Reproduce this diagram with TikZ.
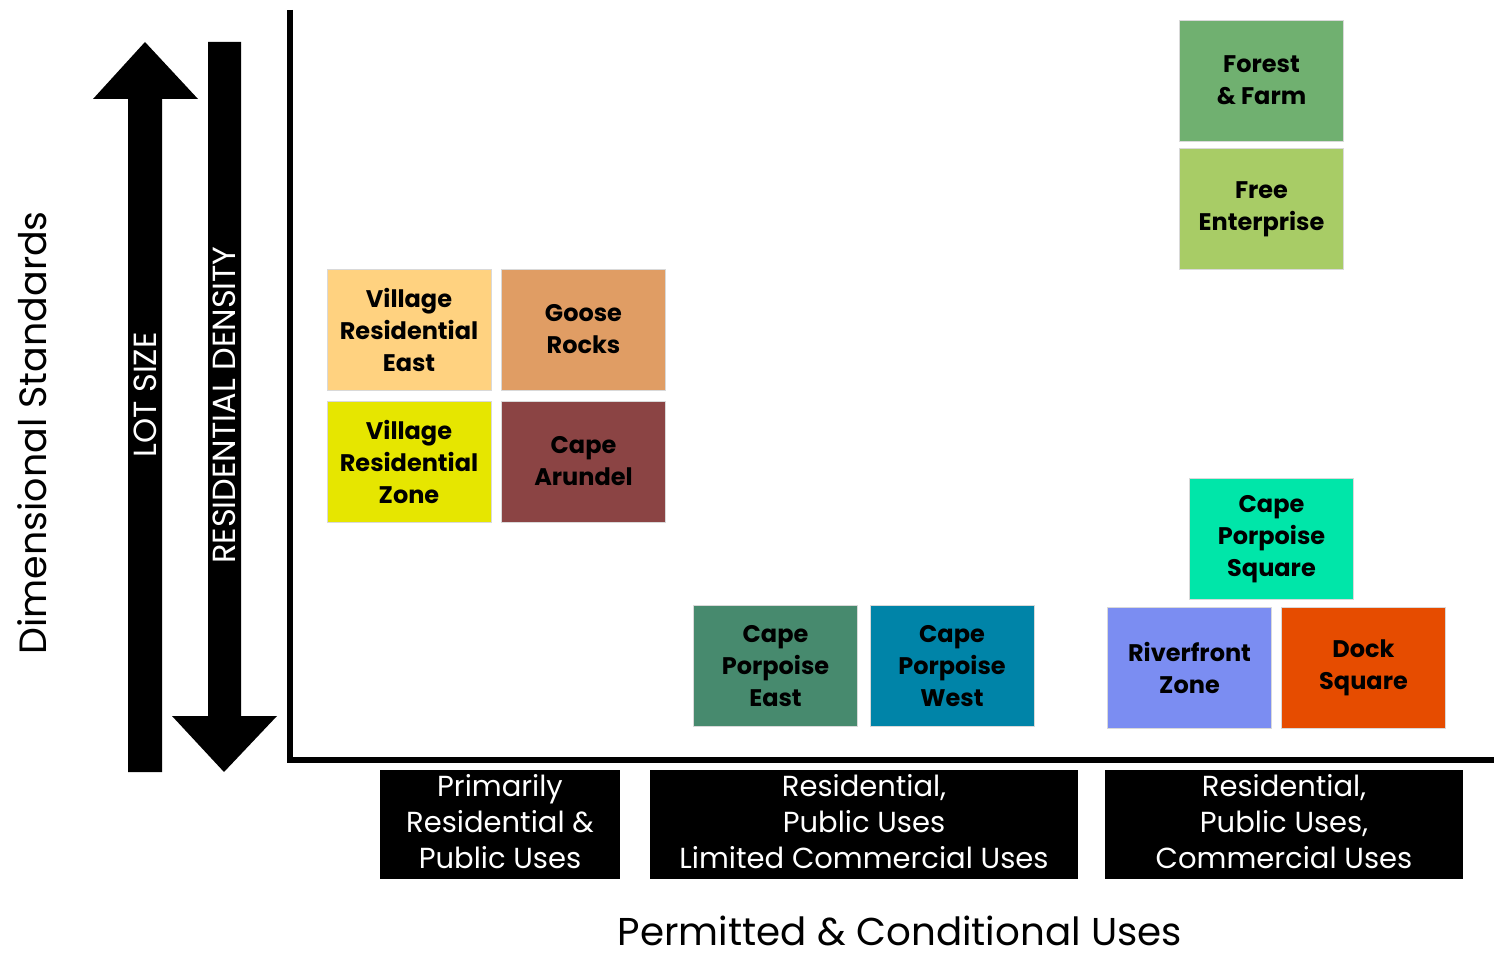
\documentclass[tikz,border=0pt]{standalone}
\usepackage{fontspec}
\setmainfont{Poppins}
\usepackage{tikz}

\definecolor{vrecol}{HTML}{FFD280}
\definecolor{gooscol}{HTML}{E09D64}
\definecolor{vrzcol}{HTML}{E6E600}
\definecolor{arucol}{HTML}{8B4444}
\definecolor{cpecol}{HTML}{478A6E}
\definecolor{cpwcol}{HTML}{0084A8}
\definecolor{cpscol}{HTML}{00E6A9}
\definecolor{rivcol}{HTML}{7B8DF2}
\definecolor{dockcol}{HTML}{E64C00}
\definecolor{farmcol}{HTML}{70B070}
\definecolor{freecol}{HTML}{A8CC66}

\tikzset{
  zone/.style={draw=white!85!black, line width=0.4pt, minimum width=82pt, minimum height=60.5pt,
    inner sep=0pt, align=center, font=\fontsize{12}{16}\selectfont\bfseries},
  usebox/.style={fill=black, minimum height=54.5pt, inner sep=0pt},
  uselabel/.style={inner sep=0pt, align=center, yshift=1.5pt,
    text=white, font=\fontsize{14.5}{18.2}\selectfont},
  arrowlabel/.style={rotate=90, text=white, font=\fontsize{16}{18}\selectfont}
}

\begin{document}
\begin{tikzpicture}[x=0.5pt, y=-0.5pt]
    \useasboundingbox (0,0) rectangle (1494,956);
    % Draw the axes
    \draw[line width=3pt] (290,10) -- (290,760) -- (1494,760);
    % Draw the two vertical arrows
    \fill (128,772) -- (128,99) -- (93,99) -- (145,42) -- (198,99) -- (162,99) -- (162,772) -- cycle;
    \fill (208,42) -- (208,716) -- (172,716) -- (224,772) -- (277,716) -- (241,716) -- (241,42) -- cycle;
    \node[arrowlabel] (lot) at (145,395) {LOT SIZE};
    \node[arrowlabel] (dens) at (224,405) {RESIDENTIAL DENSITY};
    \node[rotate=90, font=\fontsize{19}{23}\selectfont] (dim) at (32,433) {Dimensional Standards};
    % Draw the zones
    \node[zone, fill=vrecol] (vre) at (409,329.5) {Village\\Residential\\East};
    \node[zone, fill=gooscol] (goose) at (583.5,329.5) {Goose\\Rocks};
    \node[zone, fill=vrzcol] (vrz) at (409,461.5) {Village\\Residential\\Zone};
    \node[zone, fill=arucol] (arundel) at (583.5,461.5) {Cape\\Arundel};
    \node[zone, fill=cpecol] (cpe) at (775.5,666) {Cape\\Porpoise\\East};
    \node[zone, fill=cpwcol] (cpw) at (952,666) {Cape\\Porpoise\\West};
    \node[zone, fill=cpscol] (cps) at (1271.5,539) {Cape\\Porpoise\\Square};
    \node[zone, fill=rivcol] (river) at (1189.5,668) {Riverfront\\Zone};
    \node[zone, fill=dockcol] (dock) at (1363.5,668) {Dock\\Square};
    \node[zone, fill=farmcol] (farm) at (1261.5,80.5) {Forest\\\& Farm};
    \node[zone, fill=freecol] (free) at (1261.5,209) {Free\\Enterprise};
    % Draw the use categories
    \node[usebox, minimum width=120pt, label={[uselabel]center:{Primarily\\Residential \&\\Public Uses}}] (res) at (500,824.5) {};
    \node[usebox, minimum width=214pt, label={[uselabel]center:{Residential,\\Public Uses\\Limited Commercial Uses}}] (ltd) at (864,824.5) {};
    \node[usebox, minimum width=179pt, label={[uselabel]center:{Residential,\\Public Uses,\\Commercial Uses}}] (com) at (1284,824.5) {};
    \node[inner sep=0pt, font=\fontsize{19.4}{23}\selectfont] (perm) at (900,931) {Permitted \& Conditional Uses};
\end{tikzpicture}
\end{document}
